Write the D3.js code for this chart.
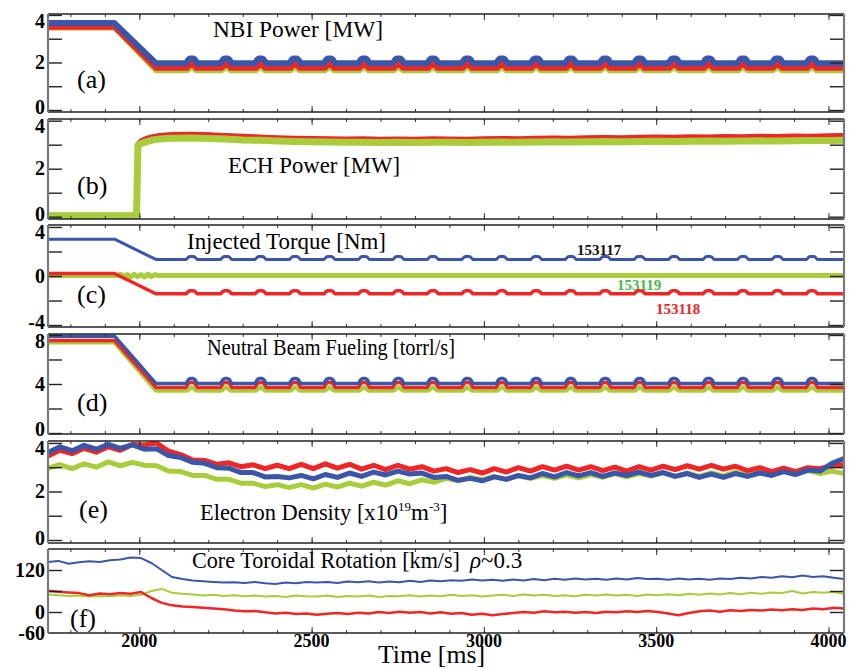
<!DOCTYPE html>
<html>
<head>
<meta charset="utf-8">
<script src="https://cdn.jsdelivr.net/npm/d3@7"></script>
<style>
  body { margin: 0; background: #fff; }
  svg { display: block; }
  text { font-family: "Liberation Serif", "Times New Roman", serif; }
</style>
</head>
<body>
<svg id="chart" width="849" height="669"></svg>
<script>
// ---------------- data ----------------
const timeDomain = [1735, 4045];
const timeTicks = [2000, 2500, 3000, 3500, 4000];

// beam programming: flat-top, ramp down, flat-top (break points)
const rampTime = [1735, 1928, 2048, 4045];
// beam modulation blips on the flat-top
const blipTimes = [2152, 2252, 2352, 2452, 2552, 2652, 2752, 2852, 2952, 3052,
                   3152, 3252, 3352, 3452, 3552, 3652, 3752, 3852, 3952];

// (a) NBI power [MW]
const nbiBlue  = [3.66, 3.66, 1.97, 1.97];
const nbiRed   = [3.48, 3.48, 1.76, 1.76];
const nbiGreen = [3.45, 3.45, 1.65, 1.65];

// (b) ECH power [MW]
const echTime = [1735, 1992, 1996, 2005, 2020, 2040, 2060, 2080, 2100, 2150, 2200, 2250, 2300, 2350, 2400, 2450,
                 2500, 2550, 2600, 2650, 2700, 2750, 2800, 2850, 2900, 2950, 3000, 3050, 3100, 3150, 3200, 3250,
                 3300, 3350, 3400, 3450, 3500, 3550, 3600, 3650, 3700, 3750, 3800, 3850, 3900, 3950, 4000, 4045];
const echGreen = [0.04, 0.04, 2.95, 3.05, 3.12, 3.20, 3.24, 3.26, 3.27,
                  3.28, 3.26, 3.24, 3.20, 3.18, 3.15, 3.13, 3.12, 3.11, 3.10,
                  3.10, 3.09, 3.10, 3.09, 3.10, 3.10, 3.09, 3.10, 3.11, 3.10,
                  3.11, 3.12, 3.11, 3.12, 3.13, 3.12, 3.13, 3.14, 3.13, 3.14,
                  3.15, 3.14, 3.15, 3.16, 3.15, 3.16, 3.17, 3.17, 3.18];
const echRed   = [0.06, 0.06, 3.02, 3.16, 3.26, 3.33, 3.38, 3.40, 3.42,
                  3.43, 3.41, 3.38, 3.35, 3.32, 3.29, 3.27, 3.26, 3.25, 3.24,
                  3.25, 3.23, 3.24, 3.23, 3.25, 3.24, 3.23, 3.25, 3.26, 3.25,
                  3.27, 3.28, 3.27, 3.29, 3.30, 3.29, 3.31, 3.32, 3.31, 3.33,
                  3.32, 3.34, 3.33, 3.35, 3.34, 3.36, 3.35, 3.37, 3.38];
const echBlue  = [0.05, 0.05, 3.00, 3.14, 3.24, 3.32, 3.37, 3.39, 3.40,
                  3.41, 3.39, 3.36, 3.32, 3.28, 3.25, 3.23, 3.21, 3.20, 3.19,
                  3.19, 3.18, 3.19, 3.18, 3.19, 3.19, 3.18, 3.20, 3.21, 3.20,
                  3.21, 3.22, 3.21, 3.23, 3.24, 3.23, 3.24, 3.25, 3.24, 3.26,
                  3.25, 3.26, 3.27, 3.28, 3.27, 3.29, 3.28, 3.29, 3.30];

// (c) injected torque [Nm]
const trqBlue = [3.0, 3.0, 1.35, 1.35];
const trqRed  = [0.2, 0.2, -1.45, -1.45];
const trqGreenTime = [1735, 1935, 1945, 1955, 1965, 1975, 1985, 1995, 2005, 2015, 2025, 2035, 2045, 2055, 4045];
const trqGreen     = [0.05, 0.05, 0.15, -0.05, 0.12, -0.08, 0.14, -0.06, 0.12, -0.08, 0.15, -0.05, 0.10, 0.05, 0.05];
const shotLabels = ["153117", "153119", "153118"];

// (d) neutral beam fueling [torr-l/s]
const fuelBlue  = [7.90, 7.90, 4.05, 4.05];
const fuelRed   = [7.55, 7.55, 3.72, 3.72];
const fuelGreen = [7.38, 7.38, 3.45, 3.45];

// (e) electron density [1e19 m^-3], sampled every 35 ms from 1735 ms
const denseStep = 35;
const neBlue = [3.60, 3.84, 3.68, 3.90, 3.74, 3.94, 3.78, 3.92, 3.74, 3.76,
                3.48, 3.40, 3.20, 3.16, 2.98, 2.96, 2.78, 2.78, 2.60, 2.62,
                2.56, 2.66, 2.52, 2.70, 2.58, 2.76, 2.62, 2.80, 2.68, 2.84,
                2.72, 2.76, 2.58, 2.62, 2.46, 2.54, 2.44, 2.60, 2.50, 2.66,
                2.56, 2.74, 2.60, 2.78, 2.64, 2.78, 2.62, 2.76, 2.66, 2.80,
                2.66, 2.78, 2.62, 2.74, 2.58, 2.72, 2.58, 2.74, 2.62, 2.76,
                2.66, 2.82, 2.70, 2.88, 2.84, 3.16, 3.36];
const neRed  = [3.46, 3.70, 3.56, 3.78, 3.62, 3.84, 3.70, 3.94, 3.92, 4.00,
                3.66, 3.52, 3.30, 3.28, 3.12, 3.18, 3.02, 3.10, 2.94, 3.08,
                2.94, 3.12, 2.94, 3.14, 2.96, 3.12, 2.92, 3.08, 2.90, 3.08,
                2.92, 3.02, 2.84, 2.94, 2.78, 2.90, 2.76, 2.94, 2.80, 2.98,
                2.84, 3.02, 2.88, 3.04, 2.88, 3.02, 2.86, 3.00, 2.84, 3.02,
                2.88, 3.04, 2.90, 3.06, 2.92, 3.08, 2.92, 3.04, 2.86, 2.98,
                2.82, 2.96, 2.82, 2.98, 2.94, 3.06, 3.10];
const neGreen = [2.96, 3.10, 2.94, 3.14, 3.00, 3.22, 3.06, 3.20, 3.08, 3.06,
                 2.84, 2.82, 2.66, 2.66, 2.50, 2.50, 2.34, 2.34, 2.20, 2.28,
                 2.16, 2.28, 2.14, 2.30, 2.18, 2.34, 2.22, 2.38, 2.26, 2.44,
                 2.32, 2.48, 2.38, 2.54, 2.44, 2.58, 2.48, 2.62, 2.50, 2.64,
                 2.54, 2.66, 2.54, 2.68, 2.56, 2.70, 2.58, 2.74, 2.60, 2.74,
                 2.64, 2.78, 2.62, 2.76, 2.62, 2.76, 2.64, 2.80, 2.66, 2.82,
                 2.68, 2.84, 2.70, 2.86, 2.74, 2.84, 2.74];

// (f) core toroidal rotation [km/s], sampled every 30 ms from 1735 ms
const rotStep = 30;
const vBlue = [143, 146, 138, 142, 145, 143, 148, 150, 156, 154,
               140, 120, 100, 94, 90, 88, 86, 84, 85, 83,
               86, 82, 80, 84, 82, 86, 84, 86, 83, 87,
               85, 88, 84, 87, 85, 89, 86, 90, 88, 91,
               89, 93, 90, 92, 89, 93, 90, 94, 91, 95,
               92, 96, 93, 95, 92, 96, 93, 97, 94, 95,
               92, 96, 93, 95, 92, 96, 94, 98, 96, 100,
               98, 102, 99, 104, 100, 102, 98, 94];
const vRed  = [61, 58, 56, 54, 48, 53, 51, 54, 52, 57,
               40, 26, 19, 16, 14, 12, 10, 8, 4, 2,
               3, -1, -4, -2, -6, -4, -8, -5, -3, -6,
               -2, -4, 0, -3, 1, -2, 0, -4, -1, -5,
               -3, -8, -5, -9, -6, -3, 0, -2, 2, -1,
               1, -2, 0, -3, 1, -1, 2, 0, 3, 0,
               -4, -9, -3, 2, 4, 1, 5, 3, 6, 4,
               7, 5, 8, 6, 10, 8, 12, 10];
const vGreen = [50, 48, 46, 47, 44, 46, 45, 48, 46, 49,
                60, 66, 55, 52, 50, 47, 49, 46, 48, 45,
                47, 44, 46, 43, 47, 45, 44, 47, 43, 46,
                44, 47, 43, 46, 45, 48, 44, 47, 45, 49,
                46, 48, 44, 47, 49, 46, 50, 47, 49, 46,
                48, 45, 49, 47, 50, 47, 49, 46, 50, 48,
                51, 48, 52, 49, 53, 50, 54, 51, 55, 52,
                56, 54, 60, 53, 57, 55, 58, 52];

// y-axis ticks and labels per panel
const yTicksA = [0, 1, 2, 3, 4],      yLabelsA = [0, 2, 4];
const yTicksB = [0, 1, 2, 3, 4],      yLabelsB = [0, 2, 4];
const yTicksC = [-4, -2, 0, 2, 4],    yLabelsC = [-4, 0, 4];
const yTicksD = [0, 2, 4, 6, 8],      yLabelsD = [0, 4, 8];
const yTicksE = [0, 1, 2, 3, 4],      yLabelsE = [0, 2, 4];
const yTicksF = [0, 60, 120],         yLabelsF = [-60, 0, 120];

// ---------------- drawing ----------------
const BLUE = "#3a56a8", RED = "#ee2626", GREEN = "#a9cc3c";
const svg = d3.select("#chart");
const X0 = 48, X1 = 844;
const x = d3.scaleLinear().domain(timeDomain).range([X0, X1]);
const minorTimes = d3.range(1800, 4001, 100);

const pairs = (ts, vs) => ts.map((t, i) => [t, vs[i]]);
const sampled = (start, step, vs) => vs.map((v, i) => [start + i * step, v]);

// flat-top with blips: rounded or peaked
const roundBlip = [[-16, 0], [-9, 0.8], [-4, 1], [4, 1], [9, 0.8], [16, 0]];
const peakBlip = [[-13, 0], [0, 1], [13, 0]];
function withBlips(ts, vs, h, shape) {
  const pts = pairs(ts, vs);
  const v = vs[2];
  blipTimes.forEach(b => shape.forEach(([dt, k]) => pts.push([b + dt, v + h * k])));
  return pts.sort((p, q) => p[0] - q[0]);
}

const panels = [
  { id: "a", top: 14, bottom: 112, domain: [-0.084, 4.04], ticks: yTicksA, labels: yLabelsA, clampLow: true,
    series: [
      { pts: withBlips(rampTime, nbiGreen, 0.16, peakBlip), color: GREEN, w: 5 },
      { pts: withBlips(rampTime, nbiRed, 0.2, peakBlip), color: RED, w: 5 },
      { pts: withBlips(rampTime, nbiBlue, 0.2, roundBlip), color: BLUE, w: 6 }
    ] },
  { id: "b", top: 119, bottom: 219, domain: [-0.096, 4.07], ticks: yTicksB, labels: yLabelsB, clampLow: true,
    series: [
      { pts: pairs(echTime, echBlue), color: BLUE, w: 5 },
      { pts: pairs(echTime, echRed), color: RED, w: 5 },
      { pts: pairs(echTime, echGreen), color: GREEN, w: 7 }
    ] },
  { id: "c", top: 225, bottom: 327, domain: [-4.16, 4.16], ticks: yTicksC, labels: yLabelsC, clampLow: true,
    series: [
      { pts: pairs(trqGreenTime, trqGreen), color: GREEN, w: 5 },
      { pts: withBlips(rampTime, trqRed, 0.25, roundBlip), color: RED, w: 3.5 },
      { pts: withBlips(rampTime, trqBlue, 0.25, roundBlip), color: BLUE, w: 3 }
    ] },
  { id: "d", top: 334, bottom: 434, domain: [-0.08, 8.08], ticks: yTicksD, labels: yLabelsD, clampLow: true,
    series: [
      { pts: withBlips(rampTime, fuelGreen, 0.3, peakBlip), color: GREEN, w: 4 },
      { pts: withBlips(rampTime, fuelRed, 0.4, roundBlip), color: RED, w: 3.5 },
      { pts: withBlips(rampTime, fuelBlue, 0.4, roundBlip), color: BLUE, w: 3.5 }
    ] },
  { id: "e", top: 441, bottom: 543, domain: [-0.124, 4.08], ticks: yTicksE, labels: yLabelsE, clampLow: true,
    series: [
      { pts: sampled(timeDomain[0], denseStep, neGreen), color: GREEN, w: 5 },
      { pts: sampled(timeDomain[0], denseStep, neRed), color: RED, w: 5 },
      { pts: sampled(timeDomain[0], denseStep, neBlue), color: BLUE, w: 5 }
    ] },
  { id: "f", top: 549, bottom: 633, domain: [-60, 180], ticks: yTicksF, labels: yLabelsF, clampLow: false,
    series: [
      { pts: sampled(timeDomain[0], rotStep, vGreen), color: GREEN, w: 2 },
      { pts: sampled(timeDomain[0], rotStep, vRed), color: RED, w: 2.5 },
      { pts: sampled(timeDomain[0], rotStep, vBlue), color: BLUE, w: 2 }
    ] }
];

const defs = svg.append("defs");

panels.forEach(p => {
  const y = d3.scaleLinear().domain(p.domain).range([p.bottom, p.top]);
  p.y = y;
  defs.append("clipPath").attr("id", "clip-" + p.id)
    .append("rect").attr("x", X0).attr("y", p.top).attr("width", X1 - X0).attr("height", p.bottom - p.top);

  const g = svg.append("g").attr("class", "panel-" + p.id);
  const line = d3.line().x(d => x(d[0])).y(d => y(d[1]));

  g.append("g").attr("clip-path", `url(#clip-${p.id})`)
    .selectAll("path").data(p.series).join("path")
    .attr("d", s => line(s.pts))
    .attr("fill", "none")
    .attr("stroke", s => s.color)
    .attr("stroke-width", s => s.w)
    .attr("stroke-linejoin", "round")
    .attr("stroke-linecap", "butt");

  // time ticks on bottom and top edges (inward)
  const noDomain = sel => sel.select(".domain").remove();
  const tickStyle = sel => sel.selectAll(".tick line").attr("stroke", "#333").attr("stroke-width", 1);
  g.append("g").attr("transform", `translate(0,${p.bottom})`)
    .call(d3.axisTop(x).tickValues(minorTimes).tickSize(3).tickFormat("")).call(noDomain).call(tickStyle);
  g.append("g").attr("transform", `translate(0,${p.bottom})`)
    .call(d3.axisTop(x).tickValues(timeTicks).tickSize(6).tickFormat("")).call(noDomain).call(tickStyle);
  g.append("g").attr("transform", `translate(0,${p.top})`)
    .call(d3.axisBottom(x).tickValues(minorTimes).tickSize(3).tickFormat("")).call(noDomain).call(tickStyle);
  g.append("g").attr("transform", `translate(0,${p.top})`)
    .call(d3.axisBottom(x).tickValues(timeTicks).tickSize(6).tickFormat("")).call(noDomain).call(tickStyle);

  // value ticks on left and right edges (inward)
  const yTickStyle = sel => sel.selectAll(".tick line").attr("stroke", "#222").attr("stroke-width", 1.4);
  g.append("g").attr("transform", `translate(${X0},0)`)
    .call(d3.axisRight(y).tickValues(p.ticks).tickSize(14).tickFormat("")).call(noDomain).call(yTickStyle);
  g.append("g").attr("transform", `translate(${X1},0)`)
    .call(d3.axisLeft(y).tickValues(p.ticks).tickSize(14).tickFormat("")).call(noDomain).call(yTickStyle);

  // frame
  g.append("line").attr("x1", X0).attr("x2", X1).attr("y1", p.top).attr("y2", p.top)
    .attr("stroke", "#222").attr("stroke-width", 1.5);
  g.append("line").attr("x1", X0).attr("x2", X1).attr("y1", p.bottom).attr("y2", p.bottom)
    .attr("stroke", "#222").attr("stroke-width", 1.5);
  g.append("line").attr("x1", X0).attr("x2", X0).attr("y1", p.top).attr("y2", p.bottom)
    .attr("stroke", "#7a7a7a").attr("stroke-width", 2.2);
  g.append("line").attr("x1", X1).attr("x2", X1).attr("y1", p.top).attr("y2", p.bottom)
    .attr("stroke", "#7a7a7a").attr("stroke-width", 2.2);

  // value labels
  g.selectAll("text.ylab").data(p.labels).join("text")
    .attr("class", "ylab")
    .attr("x", 45)
    .attr("y", v => {
      let c = y(v);
      c = Math.max(c, p.top + 7);
      if (p.clampLow) c = Math.min(c, p.bottom - 5);
      return c;
    })
    .attr("dy", "0.34em")
    .attr("text-anchor", "end")
    .attr("font-size", 20)
    .attr("font-weight", "bold")
    .text(v => v);
});

// time labels under the last panel
const last = panels[panels.length - 1];
svg.append("g").selectAll("text").data(timeTicks).join("text")
  .attr("x", t => x(t)).attr("y", last.bottom + 14)
  .attr("text-anchor", "middle")
  .attr("font-size", 18).attr("font-weight", "bold")
  .text(t => t);

svg.append("text").attr("x", 378).attr("y", 663).attr("font-size", 25)
  .attr("textLength", 107).attr("lengthAdjust", "spacingAndGlyphs").text("Time [ms]");

// panel titles
const title = (xp, yp, len, str) => svg.append("text").attr("x", xp).attr("y", yp).attr("font-size", 23)
  .attr("textLength", len).attr("lengthAdjust", "spacingAndGlyphs").text(str);
title(213, 37, 170, "NBI Power [MW]");
title(228, 173, 172, "ECH Power [MW]");
title(187, 249, 199, "Injected Torque [Nm]");
title(207, 355, 248, "Neutral Beam Fueling [torrl/s]");
const ne = svg.append("text").attr("x", 200).attr("y", 520).attr("font-size", 23);
ne.append("tspan").attr("textLength", 198).attr("lengthAdjust", "spacingAndGlyphs").text("Electron Density [x10");
ne.append("tspan").attr("font-size", 13).attr("dy", -9).text("19");
ne.append("tspan").attr("dy", 9).text("m");
ne.append("tspan").attr("font-size", 13).attr("dy", -9).text("-3");
ne.append("tspan").attr("dy", 9).text("]");
const rot = svg.append("text").attr("x", 192).attr("y", 568).attr("font-size", 23);
rot.append("tspan").attr("textLength", 268).attr("lengthAdjust", "spacingAndGlyphs").text("Core Toroidal Rotation [km/s]");
rot.append("tspan").attr("x", 470).attr("font-style", "italic").text("\u03C1");
rot.append("tspan").text("~0.3");

// panel letters
const letters = [["(a)", 77, 88], ["(b)", 77, 194], ["(c)", 77, 303], ["(d)", 77, 411], ["(e)", 79, 518], ["(f)", 70, 627]];
svg.append("g").selectAll("text").data(letters).join("text")
  .attr("x", d => d[1]).attr("y", d => d[2]).attr("font-size", 26).text(d => d[0]);

// shot numbers in the torque panel
const shotStyle = [[577, 255, "#111"], [617, 290, "#4cb84c"], [656, 314, RED]];
svg.append("g").selectAll("text").data(shotLabels).join("text")
  .attr("x", (d, i) => shotStyle[i][0]).attr("y", (d, i) => shotStyle[i][1])
  .attr("fill", (d, i) => shotStyle[i][2])
  .attr("font-size", 15).attr("font-weight", "bold").text(d => d);
</script>
</body>
</html>
